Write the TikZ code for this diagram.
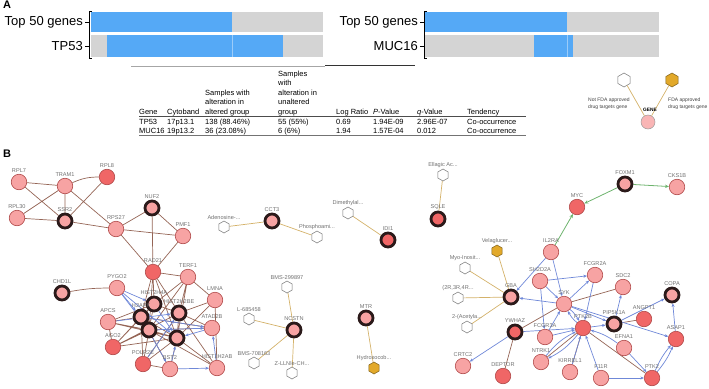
\documentclass[tikz,border=0pt]{standalone}
\usepackage{fontspec}
\setmainfont{Liberation Sans}
\usetikzlibrary{shapes.geometric,arrows.meta,backgrounds}
\definecolor{pinkA}{HTML}{F7A3A3}
\definecolor{redA}{HTML}{F06666}
\definecolor{nodeedge}{HTML}{B04848}
\definecolor{thickedge}{HTML}{2B1A1A}
\definecolor{brownE}{HTML}{956556}
\definecolor{blueE}{HTML}{6F88D8}
\definecolor{greenE}{HTML}{6DB36D}
\definecolor{tanE}{HTML}{D4B26A}
\definecolor{barblue}{HTML}{55A9F6}
\definecolor{barline}{HTML}{9CCCF9}
\definecolor{bargray}{HTML}{D4D4D4}
\definecolor{labgray}{HTML}{707070}
\definecolor{goldF}{HTML}{E2A92A}
\begin{document}
\begin{tikzpicture}[x=1pt,y=-1pt,
  every label/.style={font=\fontsize{5.6}{6}\selectfont, text=labgray, inner sep=0.5pt},
  label distance=0.8pt,
  gn/.style={circle, draw=nodeedge, line width=0.6pt, fill=pinkA, minimum size=15.5pt, inner sep=0pt},
  gr/.style={gn, fill=redA},
  gk/.style={circle, draw=thickedge, line width=2.8pt, fill=pinkA, minimum size=14pt, inner sep=0pt},
  gkr/.style={gk, fill=redA},
  dw/.style={regular polygon, regular polygon sides=6, shape border rotate=30, draw=black!55, line width=0.5pt, fill=white, minimum size=12pt, inner sep=0pt},
  dy/.style={dw, fill=goldF, draw=black!45!goldF},
  be/.style={draw=brownE, line width=0.7pt},
  bl/.style={draw=blueE, line width=0.7pt, -{Stealth[length=3.6pt,width=3pt]}},
  ge/.style={draw=greenE, line width=0.8pt, -{Stealth[length=4pt,width=3.4pt]}},
  te/.style={draw=tanE, line width=0.7pt},
  tx/.style={font=\fontsize{7.5}{9}\selectfont, inner sep=0pt, anchor=base west},
  big/.style={font=\fontsize{13}{14}\selectfont, inner sep=0pt, anchor=east},
  hd/.style={font=\bfseries\fontsize{11}{12}\selectfont, inner sep=0pt, anchor=north west},
  lg/.style={font=\fontsize{5}{5.5}\selectfont, inner sep=0pt, anchor=base west, text=black!75}
]
\useasboundingbox (0,0) rectangle (709,388);
% ---------------- Panel A ----------------
\node[hd] (lA) at (3,1) {A};
\fill[bargray] (91,12) rectangle (323,32);
\fill[barblue] (91,12) rectangle (232,32);
\fill[bargray] (91,35) rectangle (323,57);
\fill[barblue] (107,35) rectangle (283,57);
\draw[barline, line width=0.8pt] (232,35) -- (232,57);
\draw[black, line width=0.8pt] (92,11) -- (89,11) -- (89,58) -- (92,58);
\draw[black, line width=0.8pt] (85,22) -- (89,22) (85,46) -- (89,46);
\node[big] (t50a) at (83,22) {Top 50 genes};
\node[big] (tp53) at (83,46) {TP53};
\fill[bargray] (424,12) rectangle (659,32);
\fill[barblue] (424,12) rectangle (567,32);
\fill[bargray] (424,35) rectangle (659,57);
\fill[barblue] (534,35) rectangle (573,57);
\draw[barline, line width=0.8pt] (567,35) -- (567,57);
\draw[black, line width=0.8pt] (427,11) -- (424,11) -- (424,58) -- (427,58);
\draw[black, line width=0.8pt] (420,22) -- (424,22) (420,46) -- (424,46);
\node[big] (t50b) at (418,22) {Top 50 genes};
\node[big] (muc) at (418,46) {MUC16};
% table
\draw[black!35, line width=0.8pt] (131,66) -- (325,66);
\draw[black!80, line width=0.8pt] (325,65.5) -- (415,65.5);
\node[tx] (h4a) at (278,76) {Samples};
\node[tx] (h4b) at (278,85.5) {with};
\node[tx] (h4c) at (278,95) {alteration in};
\node[tx] (h4d) at (278,104.5) {unaltered};
\node[tx] (h4e) at (278,114) {group};
\node[tx] (h3a) at (205,95) {Samples with};
\node[tx] (h3b) at (205,104.5) {alteration in};
\node[tx] (h3c) at (205,114) {altered group};
\node[tx] (h1) at (139,114) {Gene};
\node[tx] (h2) at (167,114) {Cytoband};
\node[tx] (h5) at (336,114) {Log Ratio};
\node[tx] (h6) at (373,114) {\textit{P}-Value};
\node[tx] (h7) at (417,114) {\textit{q}-Value};
\node[tx] (h8) at (467,114) {Tendency};
\draw[black!70, line width=0.7pt] (139,116.5) -- (526,116.5);
\node[tx] (r1a) at (139,124) {TP53};
\node[tx] (r1b) at (167,124) {17p13.1};
\node[tx] (r1c) at (205,124) {138 (88.46\%)};
\node[tx] (r1d) at (278,124) {55 (55\%)};
\node[tx] (r1e) at (336,124) {0.69};
\node[tx] (r1f) at (373,124) {1.94E-09};
\node[tx] (r1g) at (417,124) {2.96E-07};
\node[tx] (r1h) at (467,124) {Co-occurrence};
\node[tx] (r2a) at (139,133) {MUC16};
\node[tx] (r2b) at (167,133) {19p13.2};
\node[tx] (r2c) at (205,133) {36 (23.08\%)};
\node[tx] (r2d) at (278,133) {6 (6\%)};
\node[tx] (r2e) at (336,133) {1.94};
\node[tx] (r2f) at (373,133) {1.57E-04};
\node[tx] (r2g) at (417,133) {0.012};
\node[tx] (r2h) at (467,133) {Co-occurrence};
\draw[black!55, line width=1.3pt] (139,135.5) -- (526,135.5);
% legend
\node[dw, minimum size=14pt] (lgw) at (624,80) {};
\node[dy, minimum size=14pt] (lgy) at (672,80) {};
\node[circle, draw=black!40, fill=pinkA!80, line width=0.5pt, minimum size=14pt, inner sep=0pt] (lgg) at (648,122) {};
\draw[te] (lgw) -- (lgg) (lgy) -- (lgg);
\node[font=\bfseries\fontsize{4.8}{5}\selectfont, inner sep=0pt] (lggt) at (650,110) {GENE};
\node[lg] (lgt1) at (588,101) {Not FDA approved};
\node[lg] (lgt2) at (588,108) {drug targets gene};
\node[lg] (lgt3) at (668,101) {FDA approved};
\node[lg] (lgt4) at (668,108) {drug targets gene};
% ---------------- Panel B ----------------
\node[hd] (lB) at (3,150) {B};
% left network
\node[gn,label=above:RPL7] (rpl7) at (19,182) {};
\node[gn,label=above:TRAM1] (tram1) at (65,186) {};
\node[gr,label=above:RPL8] (rpl8) at (107,177) {};
\node[gn,label=above:RPL30] (rpl30) at (17,218) {};
\node[gk,label=above:SSR2] (ssr2) at (65,221) {};
\node[gn,label=above:RPS27] (rps27) at (116,229) {};
\node[gk,label=above:NUF2] (nuf2) at (152,208) {};
\node[gn,label=above:PMF1] (pmf1) at (183,236) {};
\node[gr,label=above:RAD21] (rad21) at (153,272) {};
\node[gn,label=above:TERF1] (terf1) at (188,277) {};
\node[gk,label=above:CHD1L] (chd1l) at (62,293) {};
\node[gn,label=above:PYGO2] (pygo2) at (117,288) {};
\node[gn,label=above:LMNA] (lmna) at (215,300) {};
\node[gn,label=above:APCS] (apcs) at (108,322) {};
\node[gr,label=above:AGO2] (ago2) at (113,347) {};
\node[gr,label=above:POLR2E] (polr) at (143,364) {};
\node[gn,label=above:BST2] (bst2) at (170,369) {};
\node[gn,label=above:HIST2H2AB] (h2ab) at (217,368) {};
\node[gn,label=above:ATAD2B] (atad) at (212,328) {};
\node[gk,label=above:HIST2H4A] (hA) at (154,304) {};
\node[gk,label=above:HIST2H2BE] (hB) at (179,313) {};
\node[gk,label=above:H2AFX] (hC) at (141,317) {};
\node[gk] (hD) at (149,330) {};
\node[gk] (hE) at (177,338) {};
% middle drug nodes
\node[dw,label=above:Adenosine-...] (aden) at (224,227) {};
\node[gk,label=above:CCT3] (cct3) at (272,221) {};
\node[dw,label=above:Phosphoami...] (phos) at (317,237) {};
\node[dw,label=above:Dimethylal...] (dime) at (348,213) {};
\node[gkr,label=above:IDI1] (idi1) at (388,240) {};
\node[dw,label=above:BMS-299897] (bms1) at (287,287) {};
\node[dw,label=above:L-685458] (l66) at (249,319) {};
\node[gk,label=above:NCSTN] (ncstn) at (294,330) {};
\node[dw,label=above:BMS-708163] (bms2) at (254,363) {};
\node[dw,label=above:Z-LLNle-CH...] (zll) at (292,373) {};
\node[gk,label=above:MTR] (mtr) at (366,318) {};
\node[dy,label=above:Hydroxocob...] (hydro) at (374,368) {};
% right network
\node[dw,label=above:Ellagic Ac...] (ella) at (443,175) {};
\node[gkr,label=above:SQLE] (sqle) at (438,219) {};
\node[gk,label=above:FOXM1] (foxm1) at (625,184) {};
\node[gn,label=above:CKS1B] (cks1b) at (677,187) {};
\node[gr,label=above:MYC] (myc) at (577,207) {};
\node[gn,label=above:IL2RA] (il2ra) at (551,252) {};
\node[dy,label=above:Velaglucer...] (vela) at (497,251) {};
\node[dw,label=above:Myo-Inosit...] (myo) at (465,268) {};
\node[dw,label=above:{(2R,3R,4R...}] (r2r) at (458,298) {};
\node[dw,label=above:2-(Acetyla...] (acet) at (467,327) {};
\node[gk,label=above:GBA] (gba) at (511,297) {};
\node[gn,label=above:SH2D2A] (sh2) at (540,281) {};
\node[gn,label=above:FCGR2A] (fc2a) at (595,275) {};
\node[gn,label=above:SDC2] (sdc2) at (623,287) {};
\node[gk,label=above:COPA] (copa) at (672,295) {};
\node[gn,label=above:SYK] (syk) at (564,304) {};
\node[gk,label=above:PIP5K1A] (pip5) at (614,324) {};
\node[gr,label=above:ANGPT1] (angpt) at (644,319) {};
\node[gkr,label=above:YWHAZ] (ywhaz) at (515,332) {};
\node[gn,label=above:FCGR3A] (fc3a) at (545,337) {};
\node[gr,label=above:PTK2B] (hub) at (583,328) {};
\node[gr,label=above:ASAP1] (asap) at (676,339) {};
\node[gn,label=above:EFNA1] (efna) at (624,348) {};
\node[gn,label=above:NTRK1] (ntrk) at (541,362) {};
\node[gn,label=above:KIRREL1] (kirr) at (570,372) {};
\node[gn,label=above:CRTC2] (crtc) at (463,366) {};
\node[gr,label=above:DEPTOR] (dept) at (503,376) {};
\node[gn,label=above:F11R] (f11r) at (601,378) {};
\node[gr,label=above:PTK2] (ptk2) at (652,378) {};
\begin{scope}[on background layer]
% left brown edges
\draw[be] (rpl7) -- (tram1) (rpl7) -- (ssr2) (rpl30) -- (ssr2) (rpl30) -- (tram1)
  (tram1) to[bend left=12] (rpl8) (tram1) -- (ssr2) (rpl8) -- (ssr2) (tram1) -- (rps27)
  (ssr2) -- (rps27) (rps27) -- (nuf2) (rps27) -- (pmf1) (nuf2) -- (pmf1) (nuf2) -- (rad21)
  (rps27) -- (rad21) (pmf1) -- (rad21) (rad21) -- (terf1) (terf1) -- (lmna)
  (chd1l) to[bend left=5] (pygo2);
\draw[be] (rad21) -- (hA) (rad21) -- (hB) (rad21) -- (hC) (rad21) -- (hD) (rad21) -- (hE)
  (terf1) -- (hA) (terf1) -- (hB) (terf1) -- (hE) (terf1) -- (hD) (lmna) -- (hB) (lmna) -- (hE)
  (lmna) -- (h2ab) (apcs) -- (hA) (apcs) -- (hC) (apcs) -- (hD) (apcs) -- (hE)
  (ago2) -- (hA) (ago2) -- (hC) (ago2) -- (hD) (ago2) -- (hE) (ago2) -- (hB)
  (polr) -- (hC) (polr) -- (hD) (polr) -- (hE) (polr) -- (hB) (bst2) -- (hE) (bst2) -- (hC)
  (h2ab) -- (hE) (h2ab) -- (hB) (h2ab) -- (hD) (atad) -- (hB) (atad) -- (hD) (atad) -- (hC)
  (hA) -- (hB) (hA) -- (hC) (hC) -- (hD) (hD) -- (hE) (hB) -- (hE) (hA) -- (hD) (hC) -- (hE)
  (apcs) -- (ago2) (polr) -- (bst2);
\draw[bl] (pygo2) -- (hA);
\draw[bl] (pygo2) -- (hC);
\draw[bl] (pygo2) -- (hD);
\draw[bl] (pygo2) -- (hE);
\draw[bl] (hC) -- (atad);
\draw[bl] (hD) -- (atad);
\draw[bl] (hA) -- (hE);
\draw[bl] (bst2) -- (h2ab);
\draw[bl] (h2ab) -- (atad);
\draw[bl] (bst2) -- (hE);
\draw[bl] (polr) -- (hB);
\draw[bl] (hC) -- (bst2);
\draw[bl] (apcs) -- (hB);
\draw[bl] (atad) -- (hE);
% drug edges
\draw[te] (aden) -- (cct3) (cct3) -- (phos) (dime) -- (idi1) (bms1) -- (ncstn) (l66) -- (ncstn)
  (bms2) -- (ncstn) (zll) -- (ncstn) (mtr) -- (hydro) (ella) -- (sqle)
  (vela) -- (gba) (myo) -- (gba) (r2r) -- (gba) (acet) -- (gba);
% green
\draw[ge] (foxm1) -- (cks1b);
\draw[ge] (foxm1) -- (myc);
\draw[ge] (il2ra) -- (myc);
% right brown
\draw[be] (sdc2) -- (syk) (ywhaz) -- (syk) (ywhaz) -- (dept) (kirr) -- (hub) (hub) -- (ptk2)
  (ntrk) -- (hub) (pip5) -- (angpt);
% right blue
\draw[bl] (il2ra) -- (gba);
\draw[bl] (il2ra) -- (syk);
\draw[bl] (sh2) -- (fc2a);
\draw[bl] (sh2) -- (fc3a);
\draw[bl] (sh2) -- (syk);
\draw[bl] (syk) -- (gba);
\draw[bl] (syk) -- (fc2a);
\draw[bl] (fc2a) -- (hub);
\draw[bl] (syk) to[bend left=10] (hub);
\draw[bl] (hub) to[bend left=10] (syk);
\draw[bl] (syk) -- (pip5);
\draw[bl] (ywhaz) -- (hub);
\draw[bl] (ywhaz) -- (crtc);
\draw[bl] (fc3a) -- (syk);
\draw[bl] (fc3a) -- (hub);
\draw[bl] (ntrk) to[bend left=12] (hub);
\draw[bl] (hub) to[bend left=12] (ntrk);
\draw[bl] (kirr) -- (hub);
\draw[bl] (f11r) -- (hub);
\draw[bl] (f11r) -- (ptk2);
\draw[bl] (efna) to[bend right=10] (hub);
\draw[bl] (efna) -- (ptk2);
\draw[bl] (ptk2) to[bend left=8] (asap);
\draw[bl] (ptk2) to[bend right=8] (asap);
\draw[bl] (asap) -- (copa);
\draw[bl] (pip5) -- (copa);
\draw[bl] (pip5) -- (sdc2);
\draw[bl] (hub) -- (pip5);
\draw[bl] (syk) -- (asap);
\end{scope}
\end{tikzpicture}
\end{document}
